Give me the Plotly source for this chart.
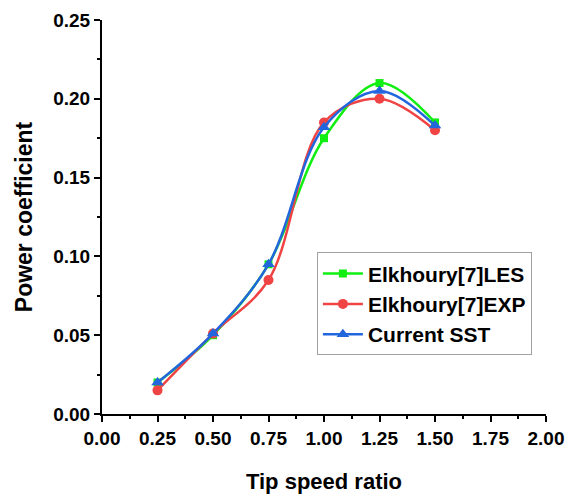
import plotly.graph_objects as go

tsr = [0.25, 0.50, 0.75, 1.00, 1.25, 1.50]
les = [0.020, 0.050, 0.095, 0.175, 0.210, 0.185]
exp_ = [0.015, 0.051, 0.085, 0.185, 0.200, 0.180]
sst = [0.020, 0.051, 0.095, 0.182, 0.205, 0.183]

x_ticks = [0.0, 0.25, 0.5, 0.75, 1.0, 1.25, 1.5, 1.75, 2.0]
y_ticks = [0.0, 0.05, 0.10, 0.15, 0.20, 0.25]

FONT = "Liberation Sans, Arial, sans-serif"

fig = go.Figure()
series = [
    ("Elkhoury[7]LES", les, "#11ee11", "square", 8),
    ("Elkhoury[7]EXP", exp_, "#f04444", "circle", 10),
    ("Current SST", sst, "#2266dd", "triangle-up", 11),
]
for name, vals, col, sym, sz in series:
    fig.add_trace(go.Scatter(
        x=tsr, y=vals, name=name, mode="lines+markers",
        line=dict(color=col, width=2.5, shape="spline", smoothing=1.0),
        marker=dict(symbol=sym, size=sz, color=col),
    ))

axis_common = dict(
    showline=True, linecolor="black", linewidth=2,
    ticks="outside", ticklen=6, tickwidth=2, tickcolor="black",
    showgrid=False, zeroline=False, mirror=False, automargin=False,
    tickfont=dict(family=FONT, size=19, color="black", weight="bold"),
)

fig.update_xaxes(
    range=[0, 2.0], tickvals=x_ticks,
    ticktext=[f"{v:.2f}" for v in x_ticks],
    minor=dict(ticks="outside", ticklen=3, tickwidth=2, tickcolor="black", dtick=0.125),
    title=dict(text="Tip speed ratio", font=dict(family=FONT, size=22, color="black", weight="bold"), standoff=26),
    **axis_common,
)
fig.update_yaxes(
    range=[0, 0.25], tickvals=y_ticks,
    ticktext=[f"{v:.2f}" for v in y_ticks],
    minor=dict(ticks="outside", ticklen=3, tickwidth=2, tickcolor="black", dtick=0.025),
    title=dict(text="Power coefficient", font=dict(family=FONT, size=23, color="black", weight="bold"), standoff=14),
    **axis_common,
)

# page body has an 8px default margin, so the figure is sized/margined to compensate
fig.update_layout(
    width=565, height=489,
    margin=dict(l=94, r=27, t=12, b=83),
    plot_bgcolor="white", paper_bgcolor="white",
    legend=dict(
        x=0.484, y=0.41, xanchor="left", yanchor="top",
        bgcolor="white", bordercolor="#a0a0a0", borderwidth=1,
        font=dict(family=FONT, size=21, color="black", weight="bold"),
        itemwidth=40, tracegroupgap=0,
    ),
    showlegend=True,
)

fig.write_html("out.html")
